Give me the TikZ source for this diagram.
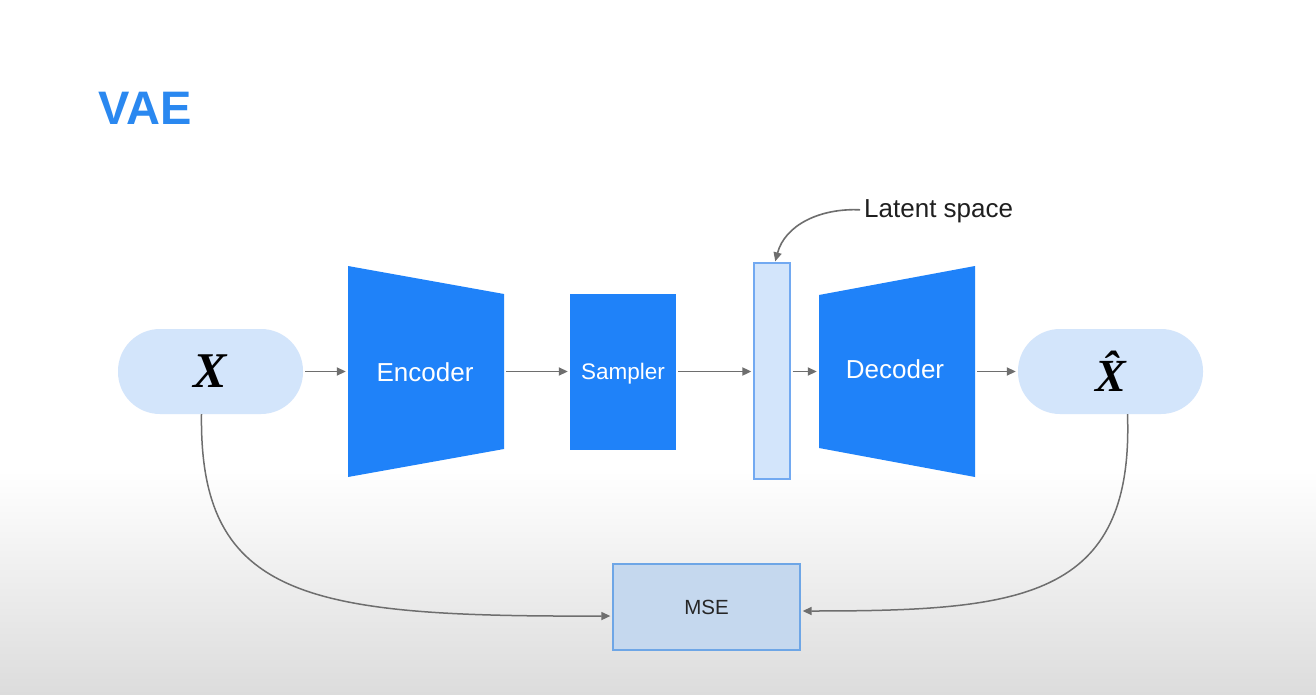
\documentclass[tikz,border=0pt]{standalone}
\usepackage{fontspec}
\setmainfont{Liberation Sans}
\newfontfamily\serifx{Liberation Serif}
\usetikzlibrary{arrows.meta}
\definecolor{vblue}{HTML}{1F82F9}
\definecolor{pill}{HTML}{D3E5FB}
\definecolor{latfill}{HTML}{D3E5FB}
\definecolor{latline}{HTML}{72A9F1}
\definecolor{msefill}{HTML}{C5D8EE}
\definecolor{mseline}{HTML}{6EA6E6}
\definecolor{conn}{HTML}{6E6E6E}
\definecolor{titleblue}{HTML}{2A88F0}
\definecolor{bggray}{HTML}{DCDCDC}
\tikzset{
  pillnode/.style={fill=pill, rounded corners=42pt, minimum width=185pt, minimum height=85pt, inner sep=0pt},
  bluebox/.style={fill=vblue, inner sep=0pt},
  anchorbox/.style={inner sep=0pt, minimum height=10pt},
  whitetxt/.style={text=white, inner sep=0pt},
  flow/.style={draw=conn, line width=1.8pt, -{Triangle[length=9pt,width=8pt]}, shorten >=2pt, shorten <=2pt},
  lbl/.style={font=\fontsize{26}{30}\selectfont}
}
\begin{document}
\begin{tikzpicture}[x=1pt,y=-1pt]
\useasboundingbox (0,0) rectangle (1316,695);
% background
\fill[white] (0,0) rectangle (1316,470);
\shade[top color=white, bottom color=bggray] (0,470) rectangle (1316,695);
% title
\node[anchor=west, text=titleblue, font=\fontsize{47}{50}\selectfont\bfseries, inner sep=0pt] (title) at (98,108) {VAE};
% X input
\node[pillnode] (x) at (210.5,371.5) {\serifx\fontsize{50}{50}\selectfont\bfseries\itshape X};
% encoder trapezoid
\fill[vblue] (348,266) -- (504,294) -- (504,449) -- (348,477) -- cycle;
\node[anchorbox, minimum width=156pt] (enc) at (426,371.5) {};
\node[whitetxt, lbl] (enctxt) at (425,372) {Encoder};
% sampler
\node[bluebox, minimum width=106pt, minimum height=156pt] (samp) at (623,371.5) {};
\node[whitetxt, font=\fontsize{22.5}{26}\selectfont] (samptxt) at (623,373.5) {Sampler};
% latent
\node[fill=latfill, draw=latline, line width=1.3pt, minimum width=36pt, minimum height=216pt, inner sep=0pt] (lat) at (772,371) {};
% decoder trapezoid
\fill[vblue] (819,295) -- (975,266) -- (975,477) -- (819,448) -- cycle;
\node[anchorbox, minimum width=156pt] (dec) at (897,371.5) {};
\node[whitetxt, lbl] (dectxt) at (895,369) {Decoder};
% X hat
\node[pillnode] (xh) at (1110.5,371.5) {\serifx\fontsize{46}{46}\selectfont\bfseries\itshape \^{X}};
% MSE
\node[fill=msefill, draw=mseline, line width=1.3pt, minimum width=187pt, minimum height=86pt, inner sep=0pt, font=\fontsize{20.5}{24}\selectfont, text=black!85] (mse) at (706.5,607) {MSE};
% latent label
\node[anchor=west, lbl, inner sep=0pt, text=black!88] (ls) at (864,211) {Latent space};
% flow arrows
\draw[flow] (x.east) -- (enc.west);
\draw[flow] (enc.east) -- (samp.west);
\draw[flow] (samp.east) -- (samp.east -| lat.west);
\draw[flow] (lat.east |- dec.west) -- (dec.west);
\draw[flow] (dec.east) -- (dec.east -| xh.west);
% latent label arrow
\draw[flow, line width=1.6pt, shorten <=4pt, shorten >=1pt] ([yshift=1pt]ls.west) .. controls (820,208) and (785,225) .. ([xshift=3pt]lat.north);
% loss curves
\coordinate (xb) at ([xshift=-9pt]x.south);
\coordinate (xhb) at ([xshift=17pt]xh.south);
\draw[flow, shorten <=0pt, line width=1.5pt] (xb) .. controls (199,600) and (310,617) .. ([yshift=-9pt]mse.west);
\draw[flow, shorten <=0pt, line width=1.5pt] (xhb) .. controls (1134,600) and (1020,611) .. ([yshift=-4pt]mse.east);
\end{tikzpicture}
\end{document}
